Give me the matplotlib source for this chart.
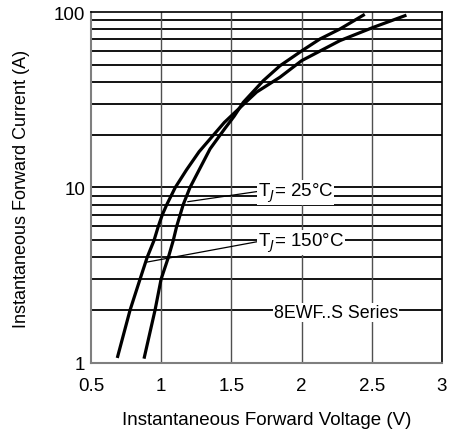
import numpy as np
import matplotlib.pyplot as plt
from matplotlib.ticker import FixedLocator, NullFormatter

plt.rcParams['font.family'] = ['Liberation Sans', 'DejaVu Sans']

# ── Données ───────────────────────────────────────────────────────────────────
v_25c = [0.88, 0.956, 0.999, 1.051, 1.086, 1.11, 1.157, 1.205, 1.348, 1.45,
         1.52, 1.585, 1.727, 1.846, 2.0, 2.131, 2.273, 2.44]
i_25c = [1.08, 2.0, 3.0, 4.0, 5.0, 6.0, 8.0, 10.0, 16.6, 21.5,
         25.5, 30.6, 40.6, 49.4, 60.0, 70.2, 80.0, 96.0]

v_150c = [0.69, 0.778, 0.849, 0.90, 0.949, 0.979, 1.008, 1.04, 1.10, 1.18,
          1.27, 1.45, 1.60, 1.68, 1.846, 2.0, 2.273, 2.511, 2.736]
i_150c = [1.09, 2.0, 3.0, 4.0, 5.0, 6.0, 7.0, 8.0, 10.0, 12.6,
          16.0, 23.5, 30.5, 35.0, 42.5, 52.8, 68.7, 81.8, 95.3]

x_ticks = [0.5, 1, 1.5, 2, 2.5, 3]
x_ticklabels = ['0.5', '1', '1.5', '2', '2.5', '3']
y_ticks = [1, 10, 100]
y_ticklabels = ['1', '10', '100']
y_grid = [2, 3, 4, 5, 6, 7, 8, 9, 10, 20, 30, 40, 50, 60, 70, 80, 90]

# ── Figure ────────────────────────────────────────────────────────────────────
fig = plt.figure(figsize=(4.49, 4.31), dpi=100)
ax = fig.add_axes([0.2027, 0.1555, 0.7817, 0.8143])

ax.set_yscale('log')
ax.set_xlim(0.5, 3)
ax.set_ylim(1, 100)

for y in y_grid:
    ax.axhline(y, color='black', linewidth=1.3, zorder=1)
for x in x_ticks[1:-1]:
    ax.axvline(x, color='#505050', linewidth=1.0, zorder=1)

ax.plot(v_25c, i_25c, color='black', linewidth=2.3, zorder=3,
        solid_joinstyle='round')
ax.plot(v_150c, i_150c, color='black', linewidth=2.3, zorder=3,
        solid_joinstyle='round')

# pointeurs des étiquettes
ax.plot([1.19, 1.69], [8.3, 9.5], color='black', linewidth=0.9, zorder=3)
ax.plot([0.90, 1.69], [3.76, 4.92], color='black', linewidth=0.9, zorder=3)

bbox = dict(facecolor='white', edgecolor='none', pad=0.5)
ax.text(1.69, 9.4, r'T$_J$= 25°C', fontsize=13.5, ha='left', va='center',
        bbox=bbox, zorder=4)
ax.text(1.69, 4.88, r'T$_J$= 150°C', fontsize=13.5, ha='left', va='center',
        bbox=bbox, zorder=4)
ax.text(2.245, 1.94, '8EWF..S Series', fontsize=12.8, ha='center', va='center',
        bbox=bbox, zorder=4)

ax.xaxis.set_major_locator(FixedLocator(x_ticks))
ax.set_xticklabels(x_ticklabels)
ax.yaxis.set_major_locator(FixedLocator(y_ticks))
ax.set_yticklabels(y_ticklabels)
ax.yaxis.set_minor_formatter(NullFormatter())
ax.tick_params(which='both', length=0, labelsize=13.5)
ax.tick_params(axis='x', pad=10)
ax.tick_params(axis='y', pad=4)

for side in ['top', 'right']:
    ax.spines[side].set_color('black')
    ax.spines[side].set_linewidth(1.2)
for side in ['left', 'bottom']:
    ax.spines[side].set_color('#7f7f7f')
    ax.spines[side].set_linewidth(1.5)

ax.set_xlabel('Instantaneous Forward Voltage (V)', fontsize=13.5, labelpad=12)
ax.set_ylabel('Instantaneous Forward Current (A)', fontsize=13, labelpad=17)

plt.savefig('out.png', dpi=100)
